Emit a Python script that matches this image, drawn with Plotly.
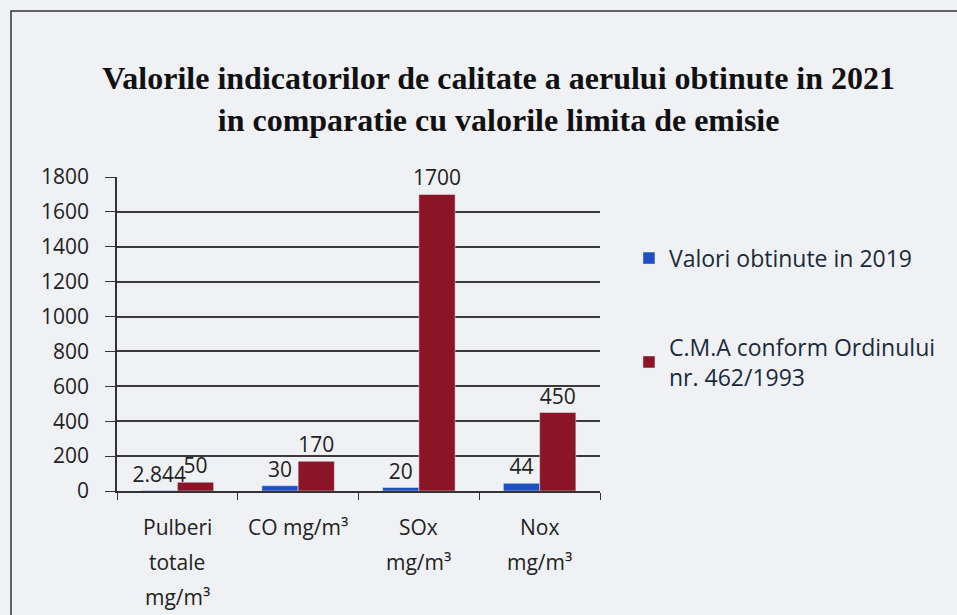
import plotly.graph_objects as go

categories = ["Pulberi<br>totale<br>mg/m³", "CO mg/m³", "SOx<br>mg/m³", "Nox<br>mg/m³"]
valori_2019 = [2.844, 30, 20, 44]
cma_limits = [50, 170, 1700, 450]
labels_2019 = ["2.844", "30", "20", "44"]
labels_cma = ["50", "170", "1700", "450"]
series_names = ["Valori obtinute in 2019", "C.M.A conform Ordinului<br>nr. 462/1993"]
y_ticks = [0, 200, 400, 600, 800, 1000, 1200, 1400, 1600, 1800]

font_sans = "Open Sans, Liberation Sans, sans-serif"

fig = go.Figure()
fig.add_trace(go.Bar(
    x=categories, y=valori_2019, name=series_names[0],
    marker=dict(color="#1f4fc0"), text=labels_2019, textposition="outside",
    textfont=dict(size=21, color="#222", family=font_sans), cliponaxis=False,
    constraintext="none", legendgroup="a",
))
fig.add_trace(go.Bar(
    x=categories, y=cma_limits, name=series_names[1],
    marker=dict(color="#8b1526"), text=labels_cma, textposition="outside",
    textfont=dict(size=21, color="#222", family=font_sans), cliponaxis=False,
    constraintext="none", legendgroup="b",
))

fig.update_layout(
    width=957, height=615,
    margin=dict(l=117, r=357, t=177, b=124, autoexpand=False),
    paper_bgcolor="#f0f1f4", plot_bgcolor="#f0f1f4",
    barmode="group", bargap=0.4, bargroupgap=0,
    title=dict(
        text="<b>Valorile indicatorilor de calitate a aerului obtinute in 2021<br>in comparatie cu valorile limita de emisie</b>",
        x=0.521, xanchor="center", xref="container", y=0.855, yanchor="middle",
        font=dict(family="Liberation Serif, Times New Roman, serif", size=32, color="#111"),
    ),
    legend=dict(
        x=1.06, y=0.81, xanchor="left", yanchor="top",
        font=dict(family=font_sans, size=23, color="#1a2a3a"),
        tracegroupgap=56, bgcolor="rgba(0,0,0,0)", itemwidth=30,
    ),
    showlegend=True,
    font=dict(family=font_sans, color="#222"),
)
fig.update_yaxes(
    range=[0, 1800], tickvals=y_ticks, ticks="outside", ticklen=10, tickcolor="#333",
    showgrid=True, gridcolor="#3a3a3a", gridwidth=1.5,
    showline=True, linecolor="#333", linewidth=1.5,
    tickfont=dict(size=21, color="#222"), zeroline=False,
    automargin=False, ticklabelstandoff=12,
)
fig.update_xaxes(
    ticks="outside", tickson="boundaries", ticklen=7, tickcolor="#333",
    showline=True, linecolor="#333", linewidth=1.5,
    showticklabels=False, automargin=False,
)
# category labels, one annotation per line for Excel-like line spacing
for cat in categories:
    for j, line in enumerate(cat.split("<br>")):
        fig.add_annotation(x=cat, xref="x", y=0, yref="paper", text=line,
                           showarrow=False, yanchor="middle", xanchor="center",
                           yshift=-(36 + 35 * j),
                           font=dict(size=21, color="#222", family=font_sans))
fig.add_shape(type="rect", xref="paper", yref="paper",
              x0=(11 - 117) / 483, x1=(990 - 117) / 483,
              y0=(491 - 640) / 314, y1=(491 - 11) / 314,
              line=dict(color="#333", width=1.5), fillcolor="rgba(0,0,0,0)", layer="below")

fig.write_html("out.html", config={"displayModeBar": False},
               post_script="document.body.style.margin='0';")
